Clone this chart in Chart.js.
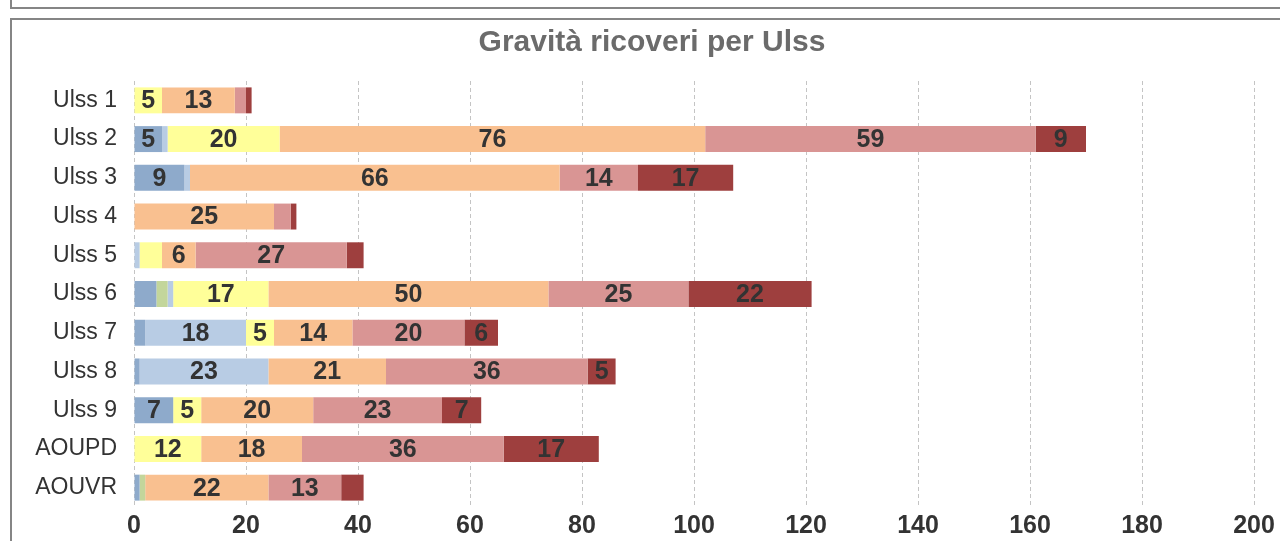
<!DOCTYPE html>
<html>
<head>
<meta charset="utf-8">
<script src="https://cdn.jsdelivr.net/npm/chart.js@4/dist/chart.umd.min.js"></script>
<style>
    body { margin: 0; background: #fff; overflow: hidden; }
    #wrap { position: relative; width: 1280px; height: 541px; }
    .box { position: absolute; border: 2px solid #858585; box-sizing: border-box; }
    #box-top { left: 10px; top: -40px; width: 1300px; height: 49px; }
    #box-chart { left: 10px; top: 18px; width: 1300px; height: 560px; }
    canvas { position: absolute; left: 0; top: 0; }
</style>
</head>
<body>
<div id="wrap">
    <div class="box" id="box-top"></div>
    <div class="box" id="box-chart"></div>
    <canvas id="gravita-chart" width="1280" height="541"></canvas>
</div>
<script>
const titolo = 'Gravità ricoveri per Ulss';
const categorie = ['Ulss 1', 'Ulss 2', 'Ulss 3', 'Ulss 4', 'Ulss 5', 'Ulss 6', 'Ulss 7', 'Ulss 8', 'Ulss 9', 'AOUPD', 'AOUVR'];

// una serie per livello di gravità, nell'ordine di impilamento
const gravita1 = [0, 5, 9, 0, 0, 4, 2, 1, 7, 0, 1];
const gravita2 = [0, 0, 0, 0, 0, 2, 0, 0, 0, 0, 1];
const gravita3 = [0, 1, 1, 0, 1, 1, 18, 23, 0, 0, 0];
const gravita4 = [5, 20, 0, 0, 4, 17, 5, 0, 5, 12, 0];
const gravita5 = [13, 76, 66, 25, 6, 50, 14, 21, 20, 18, 22];
const gravita6 = [2, 59, 14, 3, 27, 25, 20, 36, 23, 36, 13];
const gravita7 = [1, 9, 17, 1, 3, 22, 6, 5, 7, 17, 4];

const colori = ['#8eaacb', '#c3d69b', '#b8cce4', '#ffff99', '#f9c090', '#d99594', '#9e3f3e'];
const serie = [gravita1, gravita2, gravita3, gravita4, gravita5, gravita6, gravita7];

const fontBase = '"Liberation Sans", Arial, sans-serif';

// titolo centrato sulla cornice del grafico, non sull'area del canvas
const titoloCornice = {
    id: 'titoloCornice',
    afterDraw(chart) {
        const ctx = chart.ctx;
        ctx.save();
        ctx.font = 'bold 30px ' + fontBase;
        ctx.fillStyle = '#6b6b6b';
        ctx.textAlign = 'center';
        ctx.textBaseline = 'middle';
        ctx.fillText(titolo, 652, 43);
        ctx.restore();
    }
};

// etichette dentro i segmenti (solo se il valore è almeno 5)
const etichetteBarre = {
    id: 'etichetteBarre',
    afterDatasetsDraw(chart) {
        const ctx = chart.ctx;
        ctx.save();
        ctx.font = 'bold 25px ' + fontBase;
        ctx.fillStyle = '#333333';
        ctx.textAlign = 'center';
        ctx.textBaseline = 'middle';
        chart.data.datasets.forEach((ds, i) => {
            const meta = chart.getDatasetMeta(i);
            meta.data.forEach((bar, j) => {
                const v = ds.data[j];
                if (v < 5) return;
                ctx.fillText(String(v), (bar.x + bar.base) / 2, bar.y + 1);
            });
        });
        ctx.restore();
    }
};

const ctx = document.getElementById('gravita-chart').getContext('2d');
new Chart(ctx, {
    type: 'bar',
    data: {
        labels: categorie,
        datasets: serie.map((dati, i) => ({
            label: 'Gravità ' + (i + 1),
            data: dati,
            backgroundColor: colori[i],
            borderWidth: 0,
            categoryPercentage: 1,
            barPercentage: 0.67
        }))
    },
    options: {
        indexAxis: 'y',
        responsive: false,
        animation: false,
        layout: { padding: { left: 0, right: 26, top: 81, bottom: 0 } },
        plugins: {
            legend: { display: false },
            tooltip: { enabled: false },
            title: { display: false }
        },
        scales: {
            x: {
                stacked: true,
                min: 0,
                max: 200,
                ticks: {
                    stepSize: 20,
                    color: '#333333',
                    font: { family: fontBase, size: 25, weight: 'bold' },
                    padding: 4,
                    maxRotation: 0
                },
                grid: {
                    color: '#c4c4c4',
                    lineWidth: 1,
                    drawTicks: false
                },
                border: { display: true, color: 'rgba(0,0,0,0)', dash: [4, 3] },
                afterFit(scale) { scale.height = 34; }
            },
            y: {
                stacked: true,
                ticks: {
                    color: '#333333',
                    font: { family: fontBase, size: 23 },
                    padding: 17
                },
                grid: { display: false, drawTicks: false },
                border: { display: false },
                afterFit(scale) { scale.width = 134; }
            }
        }
    },
    plugins: [etichetteBarre, titoloCornice]
});
</script>
</body>
</html>
